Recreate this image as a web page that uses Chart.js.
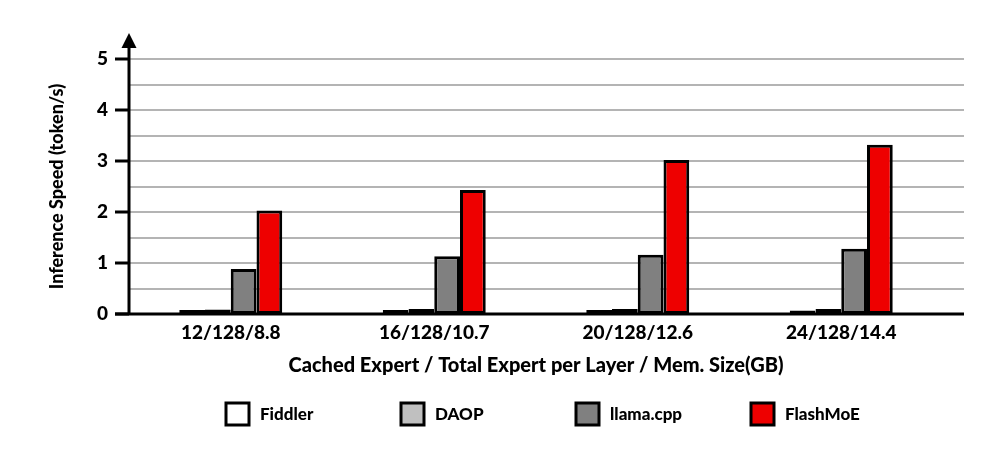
<!DOCTYPE html>
<html>
<head>
<meta charset="utf-8">
<script src="https://cdn.jsdelivr.net/npm/chart.js@4.4.1/dist/chart.umd.min.js"></script>
<style>
  html, body { margin: 0; padding: 0; background: #fff; }
  canvas { display: block; }
</style>
</head>
<body>
<canvas id="c" width="997" height="460"></canvas>
<script>
var categories = ["12/128/8.8", "16/128/10.7", "20/128/12.6", "24/128/14.4"];
var seriesNames = ["Fiddler", "DAOP", "llama.cpp", "FlashMoE"];
var fiddler = [0.08, 0.08, 0.08, 0.07];
var daop = [0.09, 0.1, 0.1, 0.1];
var llamaCpp = [0.88, 1.13, 1.16, 1.28];
var flashMoE = [2.03, 2.43, 3.02, 3.32];
var yTicks = [0, 1, 2, 3, 4, 5];
var colors = ["#ffffff", "#c0c0c0", "#808080", "#ee0000"];

var FONT = "Lato, 'Open Sans', sans-serif";
var W = "900";

// grid lines, axes with arrow, and the legend are drawn here
var decor = {
    id: "decor",
    beforeDatasetsDraw: function (chart) {
        var ctx = chart.ctx, y = chart.scales.y, a = chart.chartArea;
        ctx.save();
        ctx.strokeStyle = "#b4b4b4";
        ctx.lineWidth = 2;
        for (var v = 0.5; v <= y.max + 0.001; v += 0.5) {
            var py = Math.round(y.getPixelForValue(v));
            ctx.beginPath();
            ctx.moveTo(a.left, py);
            ctx.lineTo(a.right + 21, py);
            ctx.stroke();
        }
        ctx.restore();
    },
    afterDatasetsDraw: function (chart) {
        var ctx = chart.ctx, y = chart.scales.y, a = chart.chartArea;
        var y0 = y.getPixelForValue(0);
        ctx.save();
        ctx.strokeStyle = "#000";
        ctx.fillStyle = "#000";
        ctx.lineWidth = 3;
        // x axis
        ctx.beginPath();
        ctx.moveTo(a.left - 14, y0);
        ctx.lineTo(a.right + 21, y0);
        ctx.stroke();
        // y axis
        ctx.beginPath();
        ctx.moveTo(a.left, y0);
        ctx.lineTo(a.left, a.top - 12);
        ctx.stroke();
        ctx.beginPath();
        ctx.moveTo(a.left, a.top - 26);
        ctx.lineTo(a.left - 7.5, a.top - 11);
        ctx.lineTo(a.left + 7.5, a.top - 11);
        ctx.closePath();
        ctx.fill();
        // major ticks
        yTicks.forEach(function (t) {
            var py = y.getPixelForValue(t);
            ctx.beginPath();
            ctx.moveTo(a.left - 14, py);
            ctx.lineTo(a.left, py);
            ctx.stroke();
        });
        // legend
        ctx.font = W + " 17px " + FONT;
        ctx.textBaseline = "middle";
        ctx.textAlign = "left";
        chart.data.datasets.forEach(function (ds, i) {
            var bx = 226 + 175 * i, by = 403;
            ctx.fillStyle = ds.backgroundColor;
            ctx.fillRect(bx, by, 23, 22);
            ctx.lineWidth = 3;
            ctx.strokeStyle = "#000";
            ctx.strokeRect(bx, by, 23, 22);
            ctx.fillStyle = "#000";
            ctx.fillText(ds.label, bx + 34, by + 12);
        });
        ctx.restore();
    }
};

var seriesData = [fiddler, daop, llamaCpp, flashMoE];

new Chart(document.getElementById("c"), {
    type: "bar",
    data: {
        labels: categories,
        datasets: seriesNames.map(function (name, i) {
            return {
                label: name,
                data: seriesData[i],
                backgroundColor: colors[i],
                borderColor: "#000",
                borderWidth: 3,
                borderSkipped: false,
                categoryPercentage: 0.506,
                barPercentage: 1.0
            };
        })
    },
    options: {
        responsive: false,
        animation: false,
        layout: { padding: { top: 59, right: 54, left: 0, bottom: 0 } },
        plugins: {
            legend: { display: false },
            tooltip: { enabled: false }
        },
        scales: {
            x: {
                grid: { display: false, drawTicks: false },
                border: { display: false },
                ticks: { color: "#000", font: { family: FONT, size: 19, weight: W }, padding: 7, maxRotation: 0 },
                title: {
                    display: true,
                    text: "Cached Expert / Total Expert per Layer / Mem. Size(GB)",
                    color: "#000",
                    font: { family: FONT, size: 20, weight: W },
                    padding: { top: 0, bottom: 82 }
                },
                afterFit: function (s) { s.height = 146; }
            },
            y: {
                min: 0,
                max: 5,
                grid: { display: false, drawTicks: false },
                border: { display: false },
                ticks: {
                    stepSize: 1,
                    color: "#000",
                    padding: 21,
                    font: { family: FONT, size: 19, weight: W }
                },
                title: {
                    display: true,
                    text: "Inference Speed (token/s)",
                    color: "#000",
                    font: { family: FONT, size: 18, weight: W },
                    padding: { top: 46, bottom: 0 }
                },
                afterFit: function (s) { s.width = 129; }
            }
        }
    },
    plugins: [decor]
});
</script>
</body>
</html>
